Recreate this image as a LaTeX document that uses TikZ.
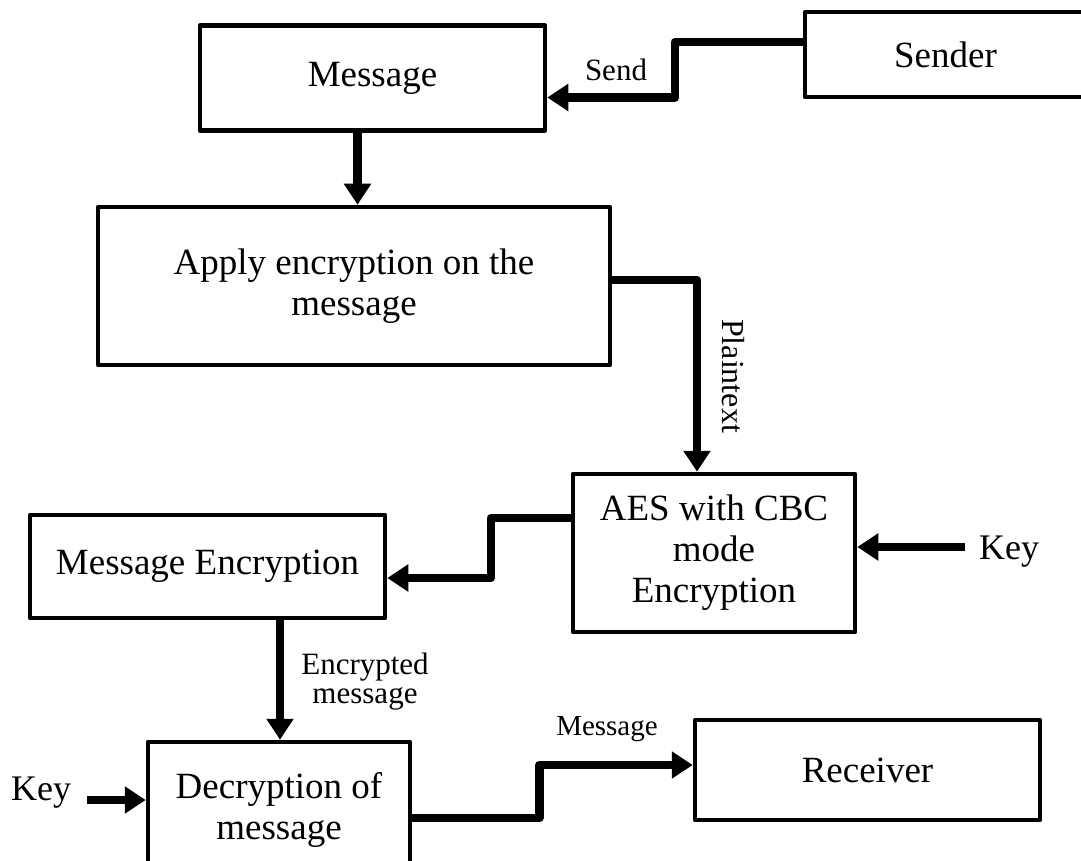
\documentclass[tikz,border=0pt]{standalone}
\usepackage{fontspec}
\setmainfont{Liberation Serif}
\usetikzlibrary{arrows.meta}
\begin{document}
\begin{tikzpicture}[x=1pt,y=-1pt,
  box/.style={draw, line width=4.5pt, line join=round, rectangle, align=center,
    inner sep=0pt, font=\fontsize{37}{41}\selectfont},
  conn/.style={line width=8.5pt, line join=round,
    -{Triangle[length=21pt,width=26pt]}},
  lbl/.style={inner sep=0pt, align=center},
]
\useasboundingbox (0,0) rectangle (1081,861);
\clip (0,0) rectangle (1081,861);

% boxes
\node[box, minimum width=345pt, minimum height=105pt] (msg) at (372.5,78) {Message};
\node[box, minimum width=295pt, minimum height=85pt] (snd) at (952.5,54.5) {\hspace*{-14pt}Sender};
\node[box, minimum width=512pt, minimum height=158pt] (app) at (354,286) {Apply encryption on the\\message};
\node[box, minimum width=282pt, minimum height=158pt] (aes) at (714,553) {AES with CBC\\mode\\Encryption};
\node[box, minimum width=355pt, minimum height=103pt] (menc) at (207.5,566.5) {Message Encryption};
\node[box, minimum width=262pt, minimum height=136pt] (dec) at (279,810) {Decryption of\\message};
\node[box, minimum width=345pt, minimum height=100pt] (rcv) at (867.5,770) {Receiver};

% free labels
\node[lbl, font=\fontsize{31}{34}\selectfont] (send) at (616,70) {Send};
\node[lbl, font=\fontsize{32}{34}\selectfont, rotate=-90] (plain) at (733,376) {Plaintext};
\node[lbl, font=\fontsize{31}{29}\selectfont] (encm) at (365,682) {Encrypted\\message};
\node[lbl, font=\fontsize{29}{32}\selectfont] (mlab) at (607,729) {Message};
\node[lbl, font=\fontsize{36}{40}\selectfont, anchor=west] (keyA) at (979,552) {Key};
\node[lbl, font=\fontsize{36}{40}\selectfont, anchor=west] (keyB) at (11,793) {Key};

% connectors
\draw[conn] ([yshift=12.5pt]snd.west) -- ++(-128,0) |- ([yshift=-19.5pt]msg.east);
\draw[conn] ([xshift=-15pt]msg.south) -- ([xshift=-15pt]msg.south |- app.north);
\draw[conn] ([yshift=6pt]app.east) -| ([xshift=-17pt]aes.north);
\draw[conn] ([yshift=35pt]aes.west) -- ++(-80,0) |- ([yshift=-11.5pt]menc.east);
\draw[conn] ([xshift=-14pt,yshift=5pt]keyA.west) -- ([yshift=5pt]keyA.west -| aes.east);
\draw[conn] ([xshift=72.5pt]menc.south) -- ([xshift=72.5pt]menc.south |- dec.north);
\draw[conn] ([xshift=16pt,yshift=-7pt]keyB.east) -- ([yshift=-7pt]keyB.east -| dec.west);
\draw[conn] ([yshift=-8pt]dec.east) -- ++(127,0) |- ([yshift=5pt]rcv.west);
\end{tikzpicture}
\end{document}
